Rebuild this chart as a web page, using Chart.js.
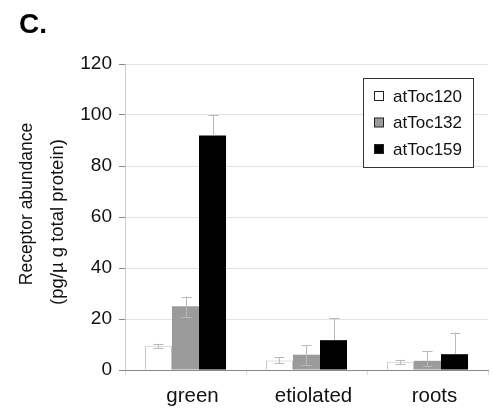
<!DOCTYPE html>
<html>
<head>
<meta charset="utf-8">
<script src="https://cdn.jsdelivr.net/npm/chart.js@4/dist/chart.umd.min.js"></script>
<style>
    html, body { margin: 0; padding: 0; background: #fff; }
    #wrap { width: 494px; height: 408px; position: relative; }
</style>
</head>
<body>
<div id="wrap"><canvas id="receptorChart"></canvas></div>
<script>
// данные графика
const categories = ['green', 'etiolated', 'roots'];
const seriesNames = ['atToc120', 'atToc132', 'atToc159'];
const toc120 = [9.5, 3.7, 3.2];
const toc132 = [25, 6, 3.6];
const toc159 = [92, 11.7, 6.2];
const toc120ErrHigh = [0.8, 1.3, 0.8];
const toc120ErrLow = [0.8, 1.0, 0.8];
const toc132ErrHigh = [3.8, 3.8, 3.8];
const toc132ErrLow = [4.2, 4.0, 2.0];
const toc159ErrHigh = [8, 8.5, 8.5];
const toc159ErrLow = [0, 0, 0];
const yTicks = [0, 20, 40, 60, 80, 100, 120];
const yTitleLines = ['Receptor abundance', '(pg/\u00b5 g total protein)'];

const FONT = '"Liberation Sans", Arial, sans-serif';

// усы ошибок поверх столбцов
const errorBarsPlugin = {
    id: 'errorBars',
    afterDatasetsDraw(chart) {
        const { ctx, scales: { y } } = chart;
        ctx.save();
        ctx.strokeStyle = '#b8b8b8';
        ctx.lineWidth = 1;
        chart.data.datasets.forEach((ds, di) => {
            const meta = chart.getDatasetMeta(di);
            meta.data.forEach((bar, i) => {
                const v = ds.data[i];
                const hi = v + ds.errHigh[i];
                const lo = v - ds.errLow[i];
                const x = Math.round(bar.x) + 0.5;
                const yHi = y.getPixelForValue(hi);
                const yLo = y.getPixelForValue(lo);
                ctx.beginPath();
                ctx.moveTo(x, yHi);
                ctx.lineTo(x, yLo);
                ctx.moveTo(x - 5, Math.round(yHi) + 0.5);
                ctx.lineTo(x + 5, Math.round(yHi) + 0.5);
                if (ds.errLow[i] > 0) {
                    ctx.moveTo(x - 5, Math.round(yLo) + 0.5);
                    ctx.lineTo(x + 5, Math.round(yLo) + 0.5);
                }
                ctx.stroke();
            });
        });
        ctx.restore();
    }
};

// легенда в рамке, подпись "C." и заголовок оси Y
const boxLegendPlugin = {
    id: 'boxLegend',
    afterDraw(chart) {
        const { ctx } = chart;
        ctx.save();
        ctx.fillStyle = '#000';
        ctx.font = 'bold 28px ' + FONT;
        ctx.textBaseline = 'alphabetic';
        ctx.textAlign = 'left';
        ctx.fillText('C.', 19, 33);

        // заголовок оси Y (две строки, повернуты)
        ctx.fillStyle = '#111';
        ctx.textAlign = 'center';
        ctx.textBaseline = 'middle';
        ctx.save();
        ctx.translate(27, 204);
        ctx.rotate(-Math.PI / 2);
        ctx.font = '17.5px ' + FONT;
        ctx.fillText(yTitleLines[0], 0, 0);
        ctx.restore();
        ctx.save();
        ctx.translate(58, 222);
        ctx.rotate(-Math.PI / 2);
        ctx.font = '18.5px ' + FONT;
        ctx.fillText(yTitleLines[1], 0, 0);
        ctx.restore();

        ctx.textAlign = 'left';
        ctx.fillStyle = '#fff';
        ctx.fillRect(363, 78, 110, 89);
        ctx.strokeStyle = '#333';
        ctx.lineWidth = 1;
        ctx.strokeRect(363.5, 78.5, 110, 89);

        ctx.font = '17px ' + FONT;
        chart.data.datasets.forEach((ds, i) => {
            const cy = 96 + i * 26.5;
            ctx.fillStyle = ds.backgroundColor;
            ctx.fillRect(374, cy - 4.5, 9, 9);
            ctx.strokeStyle = '#222';
            ctx.strokeRect(374.5, cy - 4.5, 9, 9);
            ctx.fillStyle = '#111';
            ctx.fillText(ds.label, 393, cy + 1);
        });
        ctx.restore();
    }
};

function initReceptorChart() {
    const ctx = document.getElementById('receptorChart').getContext('2d');

    new Chart(ctx, {
        type: 'bar',
        data: {
            labels: categories,
            datasets: [{
                label: seriesNames[0],
                data: toc120,
                errHigh: toc120ErrHigh,
                errLow: toc120ErrLow,
                backgroundColor: '#ffffff',
                borderColor: '#c4c4c4',
                borderWidth: 1
            }, {
                label: seriesNames[1],
                data: toc132,
                errHigh: toc132ErrHigh,
                errLow: toc132ErrLow,
                backgroundColor: '#9b9b9b',
                borderColor: '#9b9b9b',
                borderWidth: 0
            }, {
                label: seriesNames[2],
                data: toc159,
                errHigh: toc159ErrHigh,
                errLow: toc159ErrLow,
                backgroundColor: '#000000',
                borderColor: '#000000',
                borderWidth: 0
            }]
        },
        options: {
            responsive: true,
            maintainAspectRatio: false,
            animation: false,
            categoryPercentage: 0.67,
            barPercentage: 1.0,
            layout: {
                padding: { top: 64, right: 6, left: 12, bottom: 0 }
            },
            plugins: {
                legend: { display: false },
                tooltip: { enabled: false }
            },
            scales: {
                y: {
                    min: 0,
                    max: 120,
                    afterBuildTicks: (scale) => {
                        scale.ticks = yTicks.map(v => ({ value: v }));
                    },
                    afterFit: (scale) => { scale.width = 113; },
                    border: { color: '#cfcfcf' },
                    grid: {
                        color: '#e2e2e2',
                        tickLength: 6,
                        tickColor: '#888'
                    },
                    ticks: {
                        color: '#111',
                        padding: 7,
                        font: { family: FONT, size: 19 }
                    }
                },
                x: {
                    afterFit: (scale) => { scale.height = 38; },
                    border: { color: '#888' },
                    grid: {
                        drawOnChartArea: false,
                        offset: true,
                        tickLength: 5,
                        tickColor: '#ddd'
                    },
                    ticks: {
                        color: '#111',
                        padding: 9,
                        labelOffset: 7,
                        font: { family: FONT, size: 20.5 }
                    }
                }
            }
        },
        plugins: [errorBarsPlugin, boxLegendPlugin]
    });
}

document.addEventListener('DOMContentLoaded', initReceptorChart);
</script>
</body>
</html>
